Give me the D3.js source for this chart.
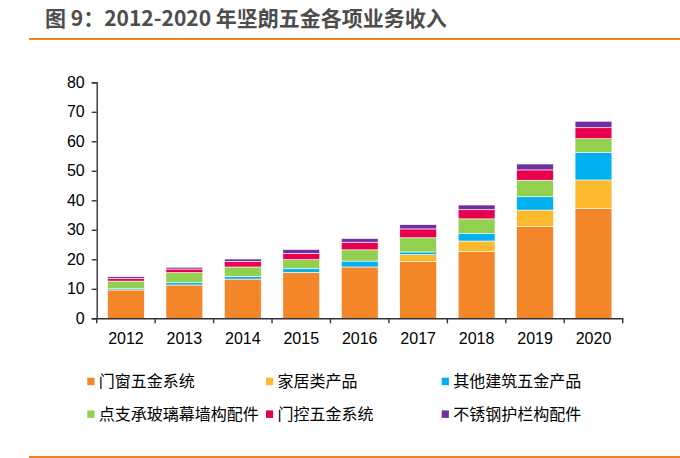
<!DOCTYPE html>
<html>
<head>
<meta charset="utf-8">
<script src="https://cdn.jsdelivr.net/npm/d3@7/dist/d3.min.js"></script>
<style>
  html, body { margin: 0; padding: 0; background: #fff; }
  svg { display: block; }
</style>
</head>
<body>
<svg id="chart" width="680" height="458"></svg>
<script>
const years = ["2012","2013","2014","2015","2016","2017","2018","2019","2020"];
const seriesNames = ["门窗五金系统","家居类产品","其他建筑五金产品","点支承玻璃幕墙构配件","门控五金系统","不锈钢护栏构配件"];
const doorWindow = [9.6, 11.3, 13.3, 15.6, 17.4, 19.2, 22.6, 31.1, 37.2];
const household  = [0, 0, 0, 0, 0, 2.4, 3.6, 5.6, 9.7];
const otherBuild = [0.4, 0.8, 0.9, 1.2, 2.0, 0.9, 2.5, 4.5, 9.3];
const curtainWall= [2.6, 3.4, 3.2, 3.1, 3.8, 4.8, 5.0, 5.6, 4.7];
const doorCtrl   = [0.9, 1.2, 1.9, 2.1, 2.6, 3.0, 3.1, 3.5, 3.7];
const railing    = [0.6, 0.6, 0.8, 1.3, 1.2, 1.45, 1.6, 2.0, 2.2];
const yTicks = [0,10,20,30,40,50,60,70,80];
const colors = ["#F4862A","#FBBA2E","#00B0F0","#92D050","#E8004F","#7030A0"];
const title = "图 9：2012-2020 年坚朗五金各项业务收入";

const seriesValues = [doorWindow, household, otherBuild, curtainWall, doorCtrl, railing];
const table = years.map((yr, i) => {
  const row = { year: yr };
  seriesNames.forEach((s, k) => row[s] = seriesValues[k][i]);
  return row;
});

const svg = d3.select("#chart");
const plotLeft = 96.7, plotRight = 622.7, plotTop = 82.3, plotBottom = 318.3;

// title and rules
svg.append("text")
  .attr("x", 45).attr("y", 26)
  .attr("font-family", "'Noto Sans CJK SC', sans-serif")
  .attr("font-weight", "bold")
  .attr("font-size", 21)
  .attr("fill", "#4d4d4d")
  .text(title);
svg.append("rect").attr("x", 29).attr("y", 38).attr("width", 651).attr("height", 2).attr("fill", "#F08122");
svg.append("rect").attr("x", 29).attr("y", 456).attr("width", 651).attr("height", 2).attr("fill", "#F08122");

const x = d3.scaleBand().domain(years).range([plotLeft, plotRight]).paddingInner(0.37).paddingOuter(0.185);
const y = d3.scaleLinear().domain([0, 80]).range([plotBottom, plotTop]);

const stacked = d3.stack().keys(seriesNames)(table);

svg.append("g").selectAll("g")
  .data(stacked)
  .join("g")
  .attr("fill", (d, i) => colors[i])
  .selectAll("rect")
  .data(d => d)
  .join("rect")
  .attr("x", d => x(d.data.year))
  .attr("width", x.bandwidth())
  .attr("y", d => y(d[1]))
  .attr("height", d => Math.max(0, y(d[0]) - y(d[1])))
  .attr("stroke", d => (d[1] - d[0]) > 0 ? "#fff" : "none")
  .attr("stroke-width", 0.6);

// y axis
const yAxis = d3.axisLeft(y).tickValues(yTicks).tickSize(5).tickPadding(7).tickFormat(d3.format("d"));
const gy = svg.append("g").attr("transform", `translate(${plotLeft},0)`).call(yAxis);
gy.select(".domain").attr("stroke", "#333").attr("stroke-width", 1.4);
gy.selectAll(".tick line").attr("stroke", "#333").attr("stroke-width", 1.4);
gy.selectAll("text").attr("font-family", "'Liberation Sans', Arial, sans-serif").attr("font-size", 16).attr("fill", "#000");

// x axis
const xAxis = d3.axisBottom(x).tickSize(0).tickPadding(14);
const gx = svg.append("g").attr("transform", `translate(0,${plotBottom})`).call(xAxis);
gx.select(".domain").attr("stroke", "#333").attr("stroke-width", 1.4);
gx.selectAll("text").attr("font-family", "'Liberation Sans', Arial, sans-serif").attr("font-size", 16).attr("fill", "#000");
const step = x.step();
const bounds = d3.range(years.length + 1).map(i => x.range()[0] + i * step);
svg.append("g").selectAll("line").data(bounds).join("line")
  .attr("x1", d => d).attr("x2", d => d)
  .attr("y1", plotBottom).attr("y2", plotBottom + 5)
  .attr("stroke", "#333").attr("stroke-width", 1.4);

// legend
const legX = [87.3, 266, 441.7];
const legY = [381.5, 414.2];
const leg = svg.append("g").selectAll("g").data(seriesNames).join("g")
  .attr("transform", (d, i) => `translate(${legX[i % 3]},${legY[Math.floor(i / 3)]})`);
leg.append("rect").attr("x", 0).attr("y", -3.8).attr("width", 7.2).attr("height", 7.5).attr("fill", (d, i) => colors[i]);
leg.append("text").attr("x", 11.5).attr("y", 0).attr("dy", "0.36em")
  .attr("font-family", "'Noto Sans CJK SC', sans-serif")
  .attr("font-size", 16).attr("fill", "#000")
  .text(d => d);
</script>
</body>
</html>
